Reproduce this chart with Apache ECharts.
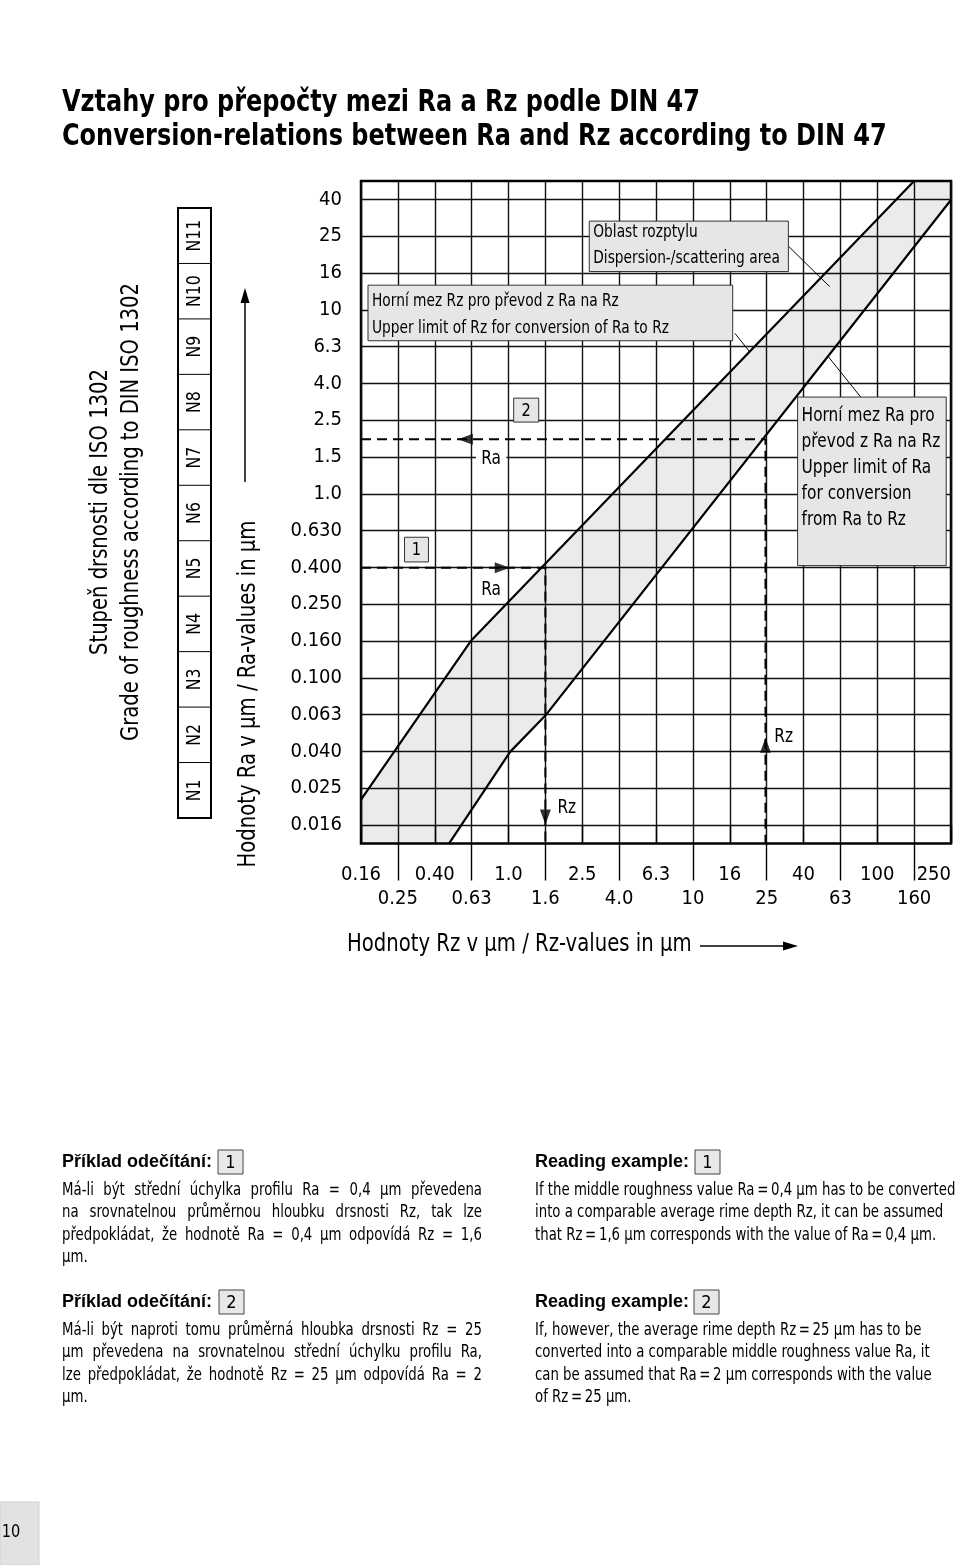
<!DOCTYPE html>
<html>
<head>
<meta charset="utf-8">
<script src="https://cdn.jsdelivr.net/npm/echarts@6/dist/echarts.min.js"></script>
<style>
html,body{margin:0;padding:0;background:#fff;}
#chart{width:960px;height:1565px;}
</style>
</head>
<body>
<div id="chart"></div>
<script>
// ------------------------------------------------------------------
// DATA (values in µm)
// ------------------------------------------------------------------
const rzTickLabels = ['0.16','0.25','0.40','0.63','1.0','1.6','2.5','4.0','6.3','10','16','25','40','63','100','160','250'];
const raTickLabels = ['0.016','0.025','0.040','0.063','0.100','0.160','0.250','0.400','0.630','1.0','1.5','2.5','4.0','6.3','10','16','25','40'];
const roughnessGrades = ['N1','N2','N3','N4','N5','N6','N7','N8','N9','N10','N11'];

// Upper limit of Rz for conversion Ra -> Rz (left edge of scatter band)
const upperRzLimitRz = [0.16, 0.63, 160];
const upperRzLimitRa = [0.022, 0.16, 50.6];
// Upper limit of Ra for conversion Rz -> Ra (right edge of scatter band)
const upperRaLimitRz = [0.48, 1.03, 1.6, 254];
const upperRaLimitRa = [0.0127, 0.040, 0.063, 40];

// Reading examples
const example1Ra = 0.4, example1Rz = 1.6;
const example2Rz = 25, example2Ra = 2;

// ------------------------------------------------------------------
// Scale helpers: both axes are logarithmic R5 series (0.2 decade per grid step)
// ------------------------------------------------------------------
const RZ_BASE = 0.16, RA_BASE = 0.016, DECADES_PER_STEP = 0.2;
const rzStep = v => Math.log10(v / RZ_BASE) / DECADES_PER_STEP;
const raStep = v => Math.log10(v / RA_BASE) / DECADES_PER_STEP;
const X_MIN = 0, X_MAX = rzTickLabels.length - 1;
const Y_MIN = -0.5, Y_MAX = raTickLabels.length - 0.5;

const NARROW = '"DejaVu Sans Condensed","Liberation Sans Narrow",sans-serif';
const BODY_BOLD = '"Liberation Sans","Arial",sans-serif';

const upperRzLine = upperRzLimitRz.map((v, i) => [rzStep(v), raStep(upperRzLimitRa[i])]);
const upperRaLine = upperRaLimitRz.map((v, i) => [rzStep(v), raStep(upperRaLimitRa[i])]);

const ex1Path = [[X_MIN, raStep(example1Ra)], [rzStep(example1Rz), raStep(example1Ra)], [rzStep(example1Rz), Y_MIN]];
const ex2Path = [[X_MIN, raStep(example2Ra)], [rzStep(example2Rz), raStep(example2Ra)], [rzStep(example2Rz), Y_MIN]];

// annotation placement (grid-step units)
const arrowMarks = [
  {value: [3.83, raStep(example1Ra)], symbolRotate: -90},
  {value: [rzStep(example1Rz), 0.22], symbolRotate: 180},
  {value: [2.83, raStep(example2Ra)], symbolRotate: 90},
  {value: [rzStep(example2Rz), 2.17], symbolRotate: 0}
];
const textMarks = [
  {pos: [3.53, 9.95], text: 'Ra', knockout: true},
  {pos: [3.53, 6.39], text: 'Ra'},
  {pos: [5.58, 0.46], text: 'Rz'},
  {pos: [11.46, 2.38], text: 'Rz'}
];
const boxes = [
  {x0: 6.19, x1: 11.59, y0: 15.04, y1: 16.41, size: 17, lh: 26, textY: 24,
   lines: ['Oblast rozptylu', 'Dispersion-/scattering area']},
  {x0: 0.19, x1: 10.08, y0: 13.16, y1: 14.67, size: 17, lh: 27, textY: 29.5,
   lines: ['Horní mez Rz pro převod z Ra na Rz', 'Upper limit of Rz for conversion of Ra to Rz']},
  {x0: 11.84, x1: 15.87, y0: 7.05, y1: 11.63, size: 19, lh: 26, textY: 71,
   lines: ['Horní mez Ra pro', 'převod z Ra na Rz', 'Upper limit of Ra', 'for conversion', 'from Ra to Rz']},
  {x0: 1.18, x1: 1.83, y0: 7.15, y1: 7.82, size: 18, center: true, lines: ['1']},
  {x0: 4.14, x1: 4.82, y0: 10.95, y1: 11.60, size: 18, center: true, lines: ['2']}
];
const leaders = [
  [[11.59, 15.73], [12.71, 14.63]],
  [[10.14, 13.36], [10.54, 12.86]],
  [[13.60, 11.57], [12.67, 12.73]]
];

// ------------------------------------------------------------------
const allIdx = rzTickLabels.map((_, i) => i);
const evenIdx = allIdx.filter(i => i % 2 === 0);
const oddIdx = allIdx.filter(i => i % 2 === 1);
const raIdx = raTickLabels.map((_, i) => i);

const gridLine = {show: true, lineStyle: {color: '#111', width: 1.4}};
const labelStyle = {color: '#000', fontFamily: NARROW, fontSize: 20};
const TXT_SX = 0.9; // horizontal compression to mimic the condensed face

const measureCtx = document.createElement('canvas').getContext('2d');
function textWidth(str, size, family, weight) {
  measureCtx.font = (weight || 'normal') + ' ' + size + 'px ' + family;
  return measureCtx.measureText(str).width;
}

// Outside-the-plot decorations
const graphics = [];
function rotText(x, y, text, size, sx) {
  graphics.push({type: 'text', x: x, y: y, rotation: Math.PI / 2, scaleX: sx, scaleY: 1,
    style: {text: text, fontFamily: NARROW, fontSize: size, fill: '#000', align: 'center', verticalAlign: 'middle'}});
}
// title
graphics.push({type: 'text', x: 62, y: 103, scaleX: 0.86,
  style: {text: 'Vztahy pro přepočty mezi Ra a Rz podle DIN 47', fontFamily: NARROW, fontWeight: 'bold', fontSize: 31, fill: '#000', align: 'left', verticalAlign: 'middle'}});
graphics.push({type: 'text', x: 62, y: 137, scaleX: 0.86,
  style: {text: 'Conversion-relations between Ra and Rz according to DIN 47', fontFamily: NARROW, fontWeight: 'bold', fontSize: 31, fill: '#000', align: 'left', verticalAlign: 'middle'}});
// rotated grade headings
rotText(100, 512, 'Stupeň drsnosti dle ISO 1302', 25, 0.87);
rotText(131, 512, 'Grade of roughness according to DIN ISO 1302', 25, 0.87);
// N grade table
const tTop = 208, tBottom = 818, tLeft = 178, tRight = 211;
const cellH = (tBottom - tTop) / roughnessGrades.length;
graphics.push({type: 'rect', shape: {x: tLeft, y: tTop, width: tRight - tLeft, height: tBottom - tTop},
  style: {fill: '#fff', stroke: '#000', lineWidth: 2}});
roughnessGrades.forEach((g, i) => {
  const cy = tBottom - cellH * (i + 0.5);
  if (i > 0) {
    const yb = tBottom - cellH * i;
    graphics.push({type: 'line', shape: {x1: tLeft, y1: yb, x2: tRight, y2: yb}, style: {stroke: '#000', lineWidth: 1}});
  }
  rotText((tLeft + tRight) / 2 + 1, cy, g, 19, 0.92);
});
// y axis name + arrow
rotText(249, 694, 'Hodnoty Ra v µm / Ra-values in µm', 24, 0.91);
graphics.push({type: 'line', shape: {x1: 245, y1: 482, x2: 245, y2: 300}, style: {stroke: '#000', lineWidth: 1.5}});
graphics.push({type: 'polygon', shape: {points: [[245, 288], [240.5, 303], [249.5, 303]]}, style: {fill: '#000'}});
// x axis name + arrow
graphics.push({type: 'text', x: 347, y: 945, scaleX: 0.91,
  style: {text: 'Hodnoty Rz v µm / Rz-values in µm', fontFamily: NARROW, fontSize: 24, fill: '#000', align: 'left', verticalAlign: 'middle'}});
graphics.push({type: 'line', shape: {x1: 700, y1: 946, x2: 786, y2: 946}, style: {stroke: '#000', lineWidth: 1.5}});
graphics.push({type: 'polygon', shape: {points: [[798, 946], [783, 941.5], [783, 950.5]]}, style: {fill: '#000'}});

// bottom reading-example texts
const BODY_SIZE = 17.5, BODY_SX = 0.845, BODY_LH = 22.5;
function bodyLine(x, y, str, justifyTo) {
  if (!justifyTo) {
    graphics.push({type: 'text', x: x, y: y, scaleX: BODY_SX,
      style: {text: str, fontFamily: NARROW, fontSize: BODY_SIZE, fill: '#000', align: 'left', verticalAlign: 'middle'}});
    return;
  }
  const words = str.split(' ');
  const widths = words.map(w => textWidth(w, BODY_SIZE, NARROW) * BODY_SX);
  const total = widths.reduce((a, b) => a + b, 0);
  const gap = (justifyTo - x - total) / (words.length - 1);
  let cx = x;
  words.forEach((w, i) => {
    graphics.push({type: 'text', x: cx, y: y, scaleX: BODY_SX,
      style: {text: w, fontFamily: NARROW, fontSize: BODY_SIZE, fill: '#000', align: 'left', verticalAlign: 'middle'}});
    cx += widths[i] + gap;
  });
}
function exampleBlock(x, yHead, head, num, boxX, bodyLines, justifyTo) {
  graphics.push({type: 'text', x: x, y: yHead,
    style: {text: head, fontFamily: BODY_BOLD, fontWeight: 'bold', fontSize: 18, fill: '#000', align: 'left', verticalAlign: 'middle'}});
  graphics.push({type: 'rect', shape: {x: boxX, y: yHead - 12, width: 25, height: 24},
    style: {fill: '#e8e8e8', stroke: '#444', lineWidth: 1}});
  graphics.push({type: 'text', x: boxX + 12.5, y: yHead + 1,
    style: {text: num, fontFamily: NARROW, fontSize: 18, fill: '#000', align: 'center', verticalAlign: 'middle'}});
  bodyLines.forEach((l, i) => {
    const last = i === bodyLines.length - 1;
    bodyLine(x, yHead + 28 + i * BODY_LH, l, (justifyTo && !last) ? justifyTo : null);
  });
}
exampleBlock(62, 1162, 'Příklad odečítání:', '1', 218, [
  'Má-li být střední úchylka profilu Ra = 0,4 µm převedena',
  'na srovnatelnou průměrnou hloubku drsnosti Rz, tak lze',
  'předpokládat, že hodnotě Ra = 0,4 µm odpovídá Rz = 1,6',
  'µm.'], 482);
exampleBlock(62, 1302, 'Příklad odečítání:', '2', 219, [
  'Má-li být naproti tomu průměrná hloubka drsnosti Rz = 25',
  'µm převedena na srovnatelnou střední úchylku profilu Ra,',
  'lze předpokládat, že hodnotě Rz = 25 µm odpovídá Ra = 2',
  'µm.'], 482);
exampleBlock(535, 1162, 'Reading example:', '1', 695, [
  'If the middle roughness value Ra\u2009=\u20090,4 µm has to be converted',
  'into a comparable average rime depth Rz, it can be assumed',
  'that Rz\u2009=\u20091,6 µm corresponds with the value of Ra\u2009=\u20090,4 µm.'], null);
exampleBlock(535, 1302, 'Reading example:', '2', 694, [
  'If, however, the average rime depth Rz\u2009=\u200925 µm has to be',
  'converted into a comparable middle roughness value Ra, it',
  'can be assumed that Ra\u2009=\u20092 µm corresponds with the value',
  'of Rz\u2009=\u200925 µm.'], null);
// page number tab
graphics.push({type: 'rect', shape: {x: 0, y: 1502, width: 39, height: 63}, style: {fill: '#e2e2e2', stroke: '#cfcfcf', lineWidth: 1}});
graphics.push({type: 'text', x: 11, y: 1532, scaleX: 0.9,
  style: {text: '10', fontFamily: NARROW, fontSize: 18, fill: '#000', align: 'center', verticalAlign: 'middle'}});

const option = {
  animation: false,
  backgroundColor: '#fff',
  grid: {left: 361, right: 9, top: 181, bottom: 721.5, show: true, borderColor: '#000', borderWidth: 2.5, backgroundColor: 'transparent'},
  xAxis: [
    {type: 'value', min: X_MIN, max: X_MAX, position: 'bottom',
     axisLine: {show: false},
     axisTick: {show: true, customValues: evenIdx, length: 18, lineStyle: {color: '#000', width: 1.4}},
     axisLabel: Object.assign({customValues: evenIdx, margin: 21, alignMaxLabel: 'right',
       formatter: v => rzTickLabels[Math.round(v)]}, labelStyle),
     splitLine: gridLine},
    {type: 'value', min: X_MIN, max: X_MAX, position: 'bottom',
     axisLine: {show: false},
     axisTick: {show: true, customValues: oddIdx, length: 37, lineStyle: {color: '#000', width: 1.4}},
     axisLabel: Object.assign({customValues: oddIdx, margin: 45,
       formatter: v => rzTickLabels[Math.round(v)]}, labelStyle),
     splitLine: gridLine}
  ],
  yAxis: {
    type: 'value', min: Y_MIN, max: Y_MAX,
    axisLine: {show: false},
    axisTick: {show: false, customValues: raIdx},
    axisLabel: Object.assign({customValues: raIdx, margin: 19,
      formatter: v => raTickLabels[Math.round(v)]}, labelStyle),
    splitLine: gridLine
  },
  graphic: graphics,
  series: [
    { // scatter band
      type: 'custom', name: 'band', z: 1, clip: true, silent: true,
      data: [[X_MIN, Y_MIN]],
      renderItem: (params, api) => {
        const pts = [];
        pts.push(api.coord([X_MIN, Y_MIN]));
        upperRzLine.forEach(p => pts.push(api.coord(p)));
        pts.push(api.coord([X_MAX, Y_MAX]));
        upperRaLine.slice().reverse().forEach(p => pts.push(api.coord(p)));
        return {type: 'polygon', shape: {points: pts}, style: {fill: 'rgba(0,0,0,0.08)'}};
      }
    },
    {type: 'line', name: 'Upper limit Rz', data: upperRzLine, symbol: 'none', z: 3,
     lineStyle: {color: '#000', width: 2.2}},
    {type: 'line', name: 'Upper limit Ra', data: upperRaLine, symbol: 'none', z: 3,
     lineStyle: {color: '#000', width: 2.2}},
    {type: 'line', name: 'Example 1', data: ex1Path, symbol: 'none', z: 3,
     lineStyle: {color: '#000', width: 2, type: [10, 6]}},
    {type: 'line', name: 'Example 2', data: ex2Path, symbol: 'none', z: 3,
     lineStyle: {color: '#000', width: 2, type: [10, 6]}},
    {type: 'scatter', name: 'arrows', data: arrowMarks, symbol: 'triangle', symbolSize: [11, 15], z: 4,
     itemStyle: {color: '#000'}, silent: true},
    {type: 'lines', name: 'leaders', coordinateSystem: 'cartesian2d', z: 4, silent: true,
     data: leaders.map(c => ({coords: c})), lineStyle: {color: '#000', width: 1, opacity: 1}},
    {type: 'custom', name: 'boxes', z: 5, silent: true,
     data: boxes.map(b => [b.x0, b.y0, b.x1, b.y1]),
     renderItem: (params, api) => {
       const b = boxes[params.dataIndex];
       const tl = api.coord([api.value(0), api.value(3)]);
       const br = api.coord([api.value(2), api.value(1)]);
       const w = br[0] - tl[0], h = br[1] - tl[1];
       const children = [{type: 'rect', shape: {x: tl[0], y: tl[1], width: w, height: h},
         style: {fill: '#e6e6e6', stroke: '#333', lineWidth: 1}}];
       if (b.center) {
         children.push({type: 'text', x: tl[0] + w / 2, y: tl[1] + h / 2 + 1, scaleX: TXT_SX,
           style: {text: b.lines.join('\n'), fontFamily: NARROW, fontSize: b.size, fill: '#000', align: 'center', verticalAlign: 'middle'}});
       } else {
         children.push({type: 'text', x: tl[0] + 4, y: tl[1] + b.textY, scaleX: TXT_SX,
           style: {text: b.lines.join('\n'), fontFamily: NARROW, fontSize: b.size, lineHeight: b.lh, fill: '#000', align: 'left', verticalAlign: 'middle'}});
       }
       return {type: 'group', children: children};
     }},
    {type: 'custom', name: 'labels', z: 6, silent: true,
     data: textMarks.map(t => t.pos),
     renderItem: (params, api) => {
       const t = textMarks[params.dataIndex];
       const p = api.coord([api.value(0), api.value(1)]);
       const style = {text: t.text, fontFamily: NARROW, fontSize: 19, fill: '#000', align: 'center', verticalAlign: 'middle'};
       if (t.knockout) { style.backgroundColor = '#fff'; style.padding = [2, 6]; }
       return {type: 'text', x: p[0], y: p[1], scaleX: TXT_SX, style: style};
     }}
  ]
};

const chart = echarts.init(document.getElementById('chart'), null, {renderer: 'canvas'});
chart.setOption(option);
</script>
</body>
</html>
